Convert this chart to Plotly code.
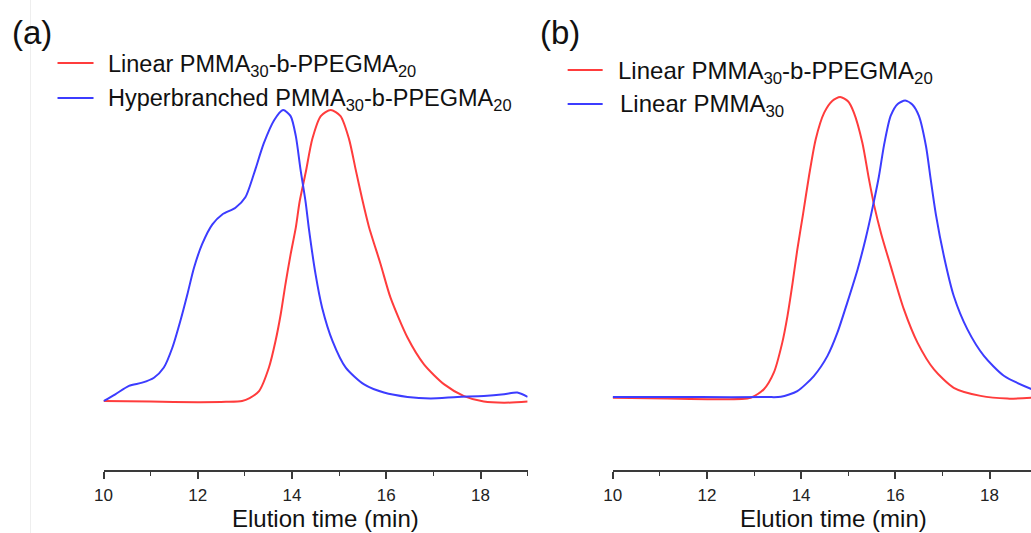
import plotly.graph_objects as go

# ---------------- data ----------------
# Panel (a): normalised GPC traces, elution time in min
a_red_t = [10.0, 11.0, 12.0, 12.6, 12.94, 13.10, 13.30, 13.51, 13.65, 13.76, 13.86, 13.97, 14.08, 14.16,
           14.29, 14.43, 14.61, 14.82, 15.03, 15.21, 15.35, 15.49, 15.63, 15.88, 16.09, 16.45, 16.80,
           17.23, 17.65, 18.07, 18.5, 19.0]
a_red_y = [0.0, -0.002, -0.004, -0.003, 0.0, 0.01, 0.034, 0.115, 0.206, 0.298, 0.401, 0.504, 0.596, 0.684,
           0.785, 0.9, 0.979, 1.0, 0.979, 0.9, 0.796, 0.693, 0.60, 0.47, 0.355, 0.218, 0.126,
           0.057, 0.017, -0.002, -0.006, -0.002]

a_blue_t = [10.0, 10.25, 10.54, 10.82, 11.07, 11.28, 11.46, 11.63, 11.78, 11.92, 12.09, 12.31, 12.52, 12.80,
            13.01, 13.19, 13.40, 13.62, 13.81, 13.97, 14.08, 14.18, 14.29, 14.36, 14.50, 14.64, 14.86,
            15.14, 15.53, 15.95, 16.45, 16.94, 17.51, 18.07, 18.5, 18.78, 19.0]
a_blue_y = [0.0, 0.023, 0.052, 0.063, 0.08, 0.115, 0.183, 0.275, 0.367, 0.458, 0.538, 0.607, 0.641, 0.664,
            0.70, 0.78, 0.885, 0.965, 1.0, 0.979, 0.911, 0.796, 0.682, 0.59, 0.435, 0.32, 0.206,
            0.115, 0.057, 0.029, 0.014, 0.009, 0.014, 0.017, 0.023, 0.029, 0.014]

# Panel (b)
b_red_t = [10.0, 11.16, 12.22, 12.93, 13.21, 13.42, 13.60, 13.71, 13.82, 13.92, 14.04, 14.17, 14.31, 14.49,
           14.66, 14.83, 15.0, 15.12, 15.30, 15.44, 15.55, 15.70, 15.90, 16.18, 16.47, 16.82, 17.24, 17.81,
           18.38, 18.9]
b_red_y = [0.001, -0.002, -0.004, 0.001, 0.029, 0.084, 0.184, 0.272, 0.383, 0.494, 0.61, 0.74, 0.86, 0.948,
           0.987, 1.0, 0.985, 0.948, 0.848, 0.727, 0.64, 0.545, 0.439, 0.295, 0.184, 0.095, 0.034, 0.007,
           -0.002, 0.001]

b_blue_t = [10.0, 11.87, 13.28, 13.57, 13.92, 14.27, 14.56, 14.77, 14.98, 15.20, 15.37, 15.50, 15.65, 15.76,
            15.90, 16.05, 16.21, 16.36, 16.50, 16.65, 16.75, 16.86, 17.03, 17.24, 17.53, 17.88, 18.31, 18.9]
b_blue_y = [0.003, 0.003, 0.003, 0.004, 0.023, 0.073, 0.14, 0.217, 0.317, 0.428, 0.53, 0.62, 0.735, 0.84,
            0.937, 0.977, 0.988, 0.975, 0.937, 0.837, 0.727, 0.61, 0.472, 0.339, 0.228, 0.14, 0.073, 0.029]

names_a = ["Linear PMMA<sub>30</sub>-b-PPEGMA<sub>20</sub>",
           "Hyperbranched PMMA<sub>30</sub>-b-PPEGMA<sub>20</sub>"]
names_b = ["Linear PMMA<sub>30</sub>-b-PPEGMA<sub>20</sub>",
           "Linear PMMA<sub>30</sub>"]
panel_labels = ["(a)", "(b)"]
x_title = "Elution time (min)"
tick_vals = [10, 12, 14, 16, 18]

RED = "#ff3c3c"
BLUE = "#3c3cff"
FONT = "Arial, Liberation Sans, sans-serif"

W, H = 1031, 533
# observed screen mapping: screen_x ~ 8.5 + 0.991 * figure_x
SX0, SXK = 8.5, 0.991
def px(x):          # reference pixel -> paper
    return ((x - SX0) / SXK) / W
def py(y):
    return (H - y) / H

fig = go.Figure()
line_kw = dict(width=2, shape="spline", smoothing=0.7)
fig.add_trace(go.Scatter(x=a_red_t, y=a_red_y, mode="lines", name=names_a[0],
                         line=dict(color=RED, **line_kw), xaxis="x", yaxis="y", showlegend=False))
fig.add_trace(go.Scatter(x=a_blue_t, y=a_blue_y, mode="lines", name=names_a[1],
                         line=dict(color=BLUE, **line_kw), xaxis="x", yaxis="y", showlegend=False))
fig.add_trace(go.Scatter(x=b_red_t, y=b_red_y, mode="lines", name=names_b[0],
                         line=dict(color=RED, **line_kw), xaxis="x2", yaxis="y2", showlegend=False))
fig.add_trace(go.Scatter(x=b_blue_t, y=b_blue_y, mode="lines", name=names_b[1],
                         line=dict(color=BLUE, **line_kw), xaxis="x2", yaxis="y2", showlegend=False))

ydom = [py(470), py(61)]
xa = dict(showline=True, linecolor="#3a3a3a", linewidth=1.6, ticks="outside", ticklen=7,
          tickwidth=1.5, tickcolor="#3a3a3a", tickvals=tick_vals, ticklabelstandoff=2,
          tickfont=dict(family=FONT, size=17, color="#222222"),
          showgrid=False, zeroline=False,
          minor=dict(dtick=1, ticks="outside", ticklen=4, tickwidth=1.3, tickcolor="#3a3a3a", showgrid=False))
ya = dict(visible=False, showgrid=False, zeroline=False, domain=ydom)

right_edge = SX0 + SXK * W      # reference pixel at the figure's right edge
fig.update_layout(
    width=W, height=H, margin=dict(l=0, r=0, t=0, b=0),
    paper_bgcolor="white", plot_bgcolor="white",
    xaxis=dict(xa, domain=[px(103), px(527)], range=[10, 19], anchor="y"),
    yaxis=dict(ya, range=[(400 - 469) / 291, (400 - 60) / 291], anchor="x"),
    xaxis2=dict(xa, domain=[px(612), 1.0], range=[10, 10 + (right_edge - 612) / 47.1], anchor="y2"),
    yaxis2=dict(ya, range=[(397 - 469) / 301, (397 - 60) / 301], anchor="x2"),
    font=dict(family=FONT, color="#111111"),
)

shapes = []
anns = []
shapes.append(dict(type="line", xref="paper", yref="paper", x0=px(30), x1=px(30), y0=0, y1=1,
                   line=dict(color="#eeeeee", width=1)))
for (xl0, xl1, yy, col, xt, txt, fs) in [
    (57, 93, 63, RED, 105, names_a[0], 23.5),
    (57, 93, 98, BLUE, 105, names_a[1], 23.5),
    (567, 602, 70, RED, 615, names_b[0], 24),
    (567, 602, 104, BLUE, 617, names_b[1], 24),
]:
    shapes.append(dict(type="line", xref="paper", yref="paper", x0=px(xl0), x1=px(xl1),
                       y0=py(yy), y1=py(yy), line=dict(color=col, width=2)))
    anns.append(dict(xref="paper", yref="paper", x=px(xt), y=py(yy + 2), xanchor="left", yanchor="middle",
                     text=txt, showarrow=False, font=dict(family=FONT, size=fs, color="#111111")))

for lab, xl in zip(panel_labels, (9, 537)):
    anns.append(dict(xref="paper", yref="paper", x=px(xl), y=py(32), xanchor="left", yanchor="middle",
                     text=lab, showarrow=False, font=dict(family=FONT, size=33, color="#111111")))
for xc in (325, 833):
    anns.append(dict(xref="paper", yref="paper", x=px(xc), y=py(518), xanchor="center", yanchor="middle",
                     text=x_title, showarrow=False, font=dict(family=FONT, size=24, color="#111111")))

fig.update_layout(shapes=shapes, annotations=anns)
# remove the page's default 8px body margin so the figure fills the window exactly
fig.write_html("out.html", config={"displayModeBar": False},
               post_script="document.body.style.margin='0px';")
